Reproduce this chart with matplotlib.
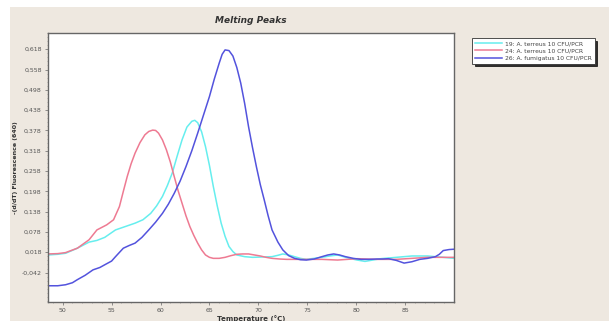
import matplotlib
matplotlib.use("Agg")
import matplotlib.pyplot as plt
from matplotlib.ticker import FixedLocator, AutoMinorLocator
import matplotlib.patches as mpatches

# Data
temp_blue = [48.5, 49.5, 50.3, 51.0, 51.5, 52.3, 53.1, 53.8, 54.3, 55.0, 55.4, 56.2, 56.8, 57.4, 58.1, 58.8, 59.5, 60.2, 60.8, 61.4, 62.0, 62.6, 63.2, 63.8, 64.4, 65.0, 65.5, 66.0, 66.3, 66.6, 67.0, 67.4, 67.8, 68.2, 68.6, 69.0, 69.4, 69.8, 70.2, 70.6, 71.0, 71.4, 72.0, 72.5, 73.1, 73.7, 74.3, 74.9, 75.7, 76.5, 77.1, 77.7, 78.3, 78.9, 79.7, 80.5, 81.3, 82.1, 82.7, 83.3, 84.1, 84.9, 85.7, 86.5, 87.3, 88.1, 88.5, 88.9, 89.5, 90.0]
val_blue = [-0.081, -0.081, -0.078, -0.072, -0.063, -0.050, -0.034, -0.027, -0.019, -0.008, 0.005, 0.030, 0.038, 0.045, 0.062, 0.084, 0.107, 0.133, 0.160, 0.192, 0.228, 0.271, 0.318, 0.370, 0.424, 0.478, 0.530, 0.577, 0.603, 0.616, 0.614, 0.598, 0.564, 0.518, 0.458, 0.389, 0.328, 0.271, 0.218, 0.173, 0.126, 0.084, 0.048, 0.025, 0.008, 0.000, -0.004, -0.005, -0.002, 0.005, 0.010, 0.013, 0.010, 0.005, 0.000, -0.003, -0.003, -0.002, -0.002, -0.001, -0.006, -0.014, -0.010, -0.003, 0.000, 0.005, 0.012, 0.023, 0.026, 0.027]

temp_cyan = [48.5, 49.5, 50.3, 51.5, 52.7, 53.5, 54.3, 55.4, 56.6, 57.4, 58.2, 59.0, 59.6, 60.2, 60.7, 61.2, 61.7, 62.2, 62.7, 63.2, 63.5, 63.8, 64.2, 64.6, 65.0, 65.4, 65.8, 66.2, 66.6, 67.0, 67.4, 67.8, 68.6, 69.4, 70.4, 71.4, 72.0, 72.5, 73.1, 73.7, 74.3, 74.9, 75.7, 76.5, 77.3, 78.1, 78.7, 79.3, 80.1, 80.9, 81.7, 82.5, 83.3, 84.1, 84.9, 85.7, 86.5, 87.3, 88.1, 88.9, 90.0]
val_cyan = [0.010, 0.012, 0.015, 0.030, 0.048, 0.053, 0.062, 0.084, 0.096, 0.104, 0.114, 0.133, 0.155, 0.183, 0.215, 0.252, 0.302, 0.350, 0.388, 0.405, 0.408, 0.401, 0.374, 0.330, 0.275, 0.212, 0.155, 0.104, 0.065, 0.035, 0.020, 0.010, 0.005, 0.003, 0.004, 0.005, 0.009, 0.013, 0.010, 0.005, 0.000, -0.003, 0.000, 0.003, 0.007, 0.010, 0.005, 0.000, -0.005, -0.009, -0.005, -0.001, 0.001, 0.003, 0.005, 0.007, 0.007, 0.007, 0.005, 0.003, 0.000]

temp_pink = [48.5, 49.5, 50.3, 51.5, 52.7, 53.5, 54.5, 55.2, 55.8, 56.2, 56.6, 57.0, 57.4, 57.9, 58.4, 58.8, 59.2, 59.5, 59.8, 60.2, 60.6, 61.0, 61.4, 61.8, 62.2, 62.6, 63.0, 63.4, 63.8, 64.2, 64.6, 65.0, 65.4, 66.0, 66.6, 67.2, 67.8, 68.4, 69.0, 69.6, 70.2, 70.8, 71.4, 72.2, 72.9, 74.0, 74.9, 75.7, 76.5, 77.3, 78.1, 79.1, 80.1, 81.1, 82.1, 83.1, 84.1, 85.7, 87.3, 88.5, 90.0]
val_pink = [0.013, 0.014, 0.017, 0.030, 0.055, 0.084, 0.099, 0.114, 0.153, 0.198, 0.242, 0.280, 0.311, 0.342, 0.365, 0.375, 0.379, 0.378, 0.370, 0.350, 0.321, 0.285, 0.242, 0.200, 0.163, 0.126, 0.094, 0.068, 0.045, 0.025, 0.010, 0.003, 0.000, 0.000, 0.003, 0.008, 0.012, 0.013, 0.013, 0.010, 0.007, 0.003, 0.000, -0.002, -0.003, -0.003, -0.003, -0.003, -0.003, -0.004, -0.005, -0.003, -0.001, -0.002, -0.003, -0.003, -0.003, 0.000, 0.003, 0.003, 0.003]

labels = ["19: A. terreus 10 CFU/PCR", "24: A. terreus 10 CFU/PCR", "26: A. fumigatus 10 CFU/PCR"]
colors = ["#66eeee", "#ee7a92", "#5353dd"]

yticks = [0.618, 0.558, 0.498, 0.438, 0.378, 0.318, 0.258, 0.198, 0.138, 0.078, 0.018, -0.042]
xticks = [50, 55, 60, 65, 70, 75, 80, 85]

bg = "#eee8e0"
fig = plt.figure(figsize=(6.09, 3.21), dpi=100)
fig.patch.set_facecolor("white")
# beige panel (leaving a white strip at top and left)
panel = mpatches.Rectangle((10/609, 0), 1, 1 - 7/321, transform=fig.transFigure,
                           facecolor=bg, edgecolor="none", zorder=-10)
fig.patches.append(panel)

ax = fig.add_axes([48/609, 19/321, 406/609, 269/321])
ax.set_zorder(1)
ax.set_facecolor("white")

series = [(temp_cyan, val_cyan), (temp_pink, val_pink), (temp_blue, val_blue)]
for (t, v), lab, c in zip(series, labels, colors):
    ax.plot(t, v, color=c, lw=1.1, label=lab, solid_joinstyle="round")

ax.set_xlim(48.5, 90.0)
ax.set_ylim(-0.129, 0.666)
ax.yaxis.set_major_locator(FixedLocator(yticks))
ax.xaxis.set_major_locator(FixedLocator(xticks))
ax.set_yticklabels([f"{y:.3f}".replace(".", ",") for y in yticks])
ax.set_xticklabels([str(x) for x in xticks])
ax.yaxis.set_minor_locator(AutoMinorLocator(5))
ax.xaxis.set_minor_locator(AutoMinorLocator(5))
ax.tick_params(axis="both", which="major", labelsize=4.5, labelcolor="#555555", length=2.5, width=0.5, color="#666666", pad=2)
ax.tick_params(axis="both", which="minor", length=1, width=0.4, color="#888888")
for s in ax.spines.values():
    s.set_color("#666666")
    s.set_linewidth(1.0)

ax.set_title("Melting Peaks", fontsize=6.5, fontweight="bold", style="italic", color="#333333", pad=7)
ax.set_ylabel("-(d/dT) Fluorescence (640)", fontsize=4.5, fontweight="bold", color="#333333", labelpad=3)
ax.set_xlabel("Temperature (°C)", fontsize=5, fontweight="bold", color="#333333", labelpad=1)

leg = ax.legend(loc="upper left", bbox_to_anchor=(472/609, 1 - 38/321), bbox_transform=fig.transFigure,
                fontsize=4.3, frameon=True, fancybox=False, shadow={"color": "black", "alpha": 0.8},
                borderpad=0.5, labelspacing=0.35, handlelength=4.5, handletextpad=0.5, borderaxespad=0)
leg.get_frame().set_edgecolor("#333333")
leg.get_frame().set_linewidth(0.6)
for txt in leg.get_texts():
    txt.set_color("#444444")

fig.savefig("out.png", dpi=100, facecolor=fig.get_facecolor())
